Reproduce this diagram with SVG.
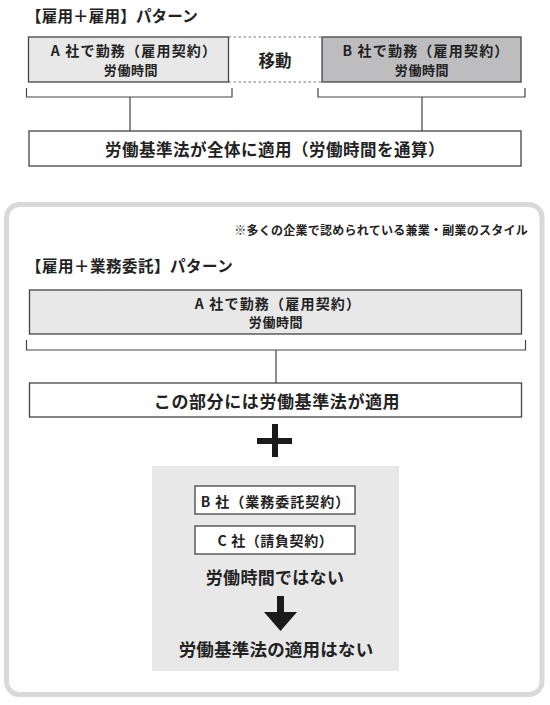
<svg xmlns="http://www.w3.org/2000/svg" width="550" height="705" viewBox="0 0 550 705">
<style>
text{font-family:"Noto Sans CJK JP","Noto Sans",sans-serif;fill:#222;font-weight:bold;dominant-baseline:central}
.c{text-anchor:middle}
.box{stroke:#444;stroke-width:1.3}
.ln{stroke:#444;stroke-width:1.2;fill:none}
.dot{stroke:#777;stroke-width:1.2;stroke-dasharray:2.5 2.5;fill:none}
.t1{font-size:14px;letter-spacing:1.2px}
.t2{font-size:13px;letter-spacing:0.6px}
</style>
<rect width="550" height="705" fill="#fff"/>
<g id="title1"><text x="26" y="15" font-size="15.5" letter-spacing="0.2">【雇用＋雇用】パターン</text></g>
<g id="nodeA1"><rect class="box" x="28.5" y="37" width="200" height="45" fill="#e8e8e9"/>
<text class="c t1" x="134" y="49.5">A 社で勤務（雇用契約）</text>
<text class="c t2" x="131" y="69.5">労働時間</text></g>
<g id="move"><path class="dot" d="M228.5 37H322M228.5 82H322"/>
<text class="c" x="275" y="60" font-size="16.5">移動</text></g>
<g id="nodeB1"><rect class="box" x="322" y="37" width="199" height="45" fill="#bdbdbf"/>
<text class="c t1" x="426" y="49.5">B 社で勤務（雇用契約）</text>
<text class="c t2" x="422" y="69.5">労働時間</text></g>
<g id="law1"><rect class="box" x="29" y="131" width="492" height="35" fill="#fff"/>
<text class="c" x="275" y="148.5" font-size="16.5" letter-spacing="0.5">労働基準法が全体に適用（労働時間を通算）</text></g>
<g id="connectors">
<path class="ln" d="M26.5 88V97H232V88M318 88V97H525V88M130 97V131M422 97V131"/>
<path class="ln" d="M26.5 340V350H525.5V340M276 350V383"/>
</g>
<g id="frame"><rect x="6.5" y="204.5" width="535.5" height="490" rx="13" fill="none" stroke="#d9d9da" stroke-width="5"/></g>
<g id="note"><text x="528" y="229" font-size="12" font-weight="normal" letter-spacing="0.25" text-anchor="end">※多くの企業で認められている兼業・副業のスタイル</text></g>
<g id="title2"><text x="26" y="265" font-size="15.5" letter-spacing="0.5">【雇用＋業務委託】パターン</text></g>
<g id="nodeA2"><rect class="box" x="29.5" y="290" width="492" height="44" fill="#e8e8e9"/>
<text class="c t1" x="278" y="303">A 社で勤務（雇用契約）</text>
<text class="c t2" x="276" y="321.5">労働時間</text></g>
<g id="law2"><rect class="box" x="29.5" y="383" width="492" height="34" fill="#fff"/>
<text class="c" x="277" y="400.5" font-size="17" letter-spacing="0.6">この部分には労働基準法が適用</text></g>
<g id="plus"><path d="M257 438H292V444H257ZM272 424H278V457H272Z" fill="#1a1a1a"/></g>
<g id="greyArea"><rect x="152" y="466" width="247" height="205" fill="#e8e8e9"/></g>
<g id="nodeB2"><rect class="box" x="195" y="486" width="160" height="28" fill="#fff"/>
<text class="c" x="275.5" y="501" font-size="14" letter-spacing="1">B 社（業務委託契約）</text></g>
<g id="nodeC2"><rect class="box" x="195" y="526" width="160" height="28" fill="#fff"/>
<text class="c" x="275.5" y="540" font-size="14" letter-spacing="0.6">C 社（請負契約）</text></g>
<g id="noWork"><text class="c" x="275" y="576" font-size="17" letter-spacing="0.3">労働時間ではない</text></g>
<g id="arrow"><path d="M277 596H284V612H297L280.5 631L264 612H277Z" fill="#1a1a1a"/></g>
<g id="noLaw"><text class="c" x="276" y="648" font-size="17.5" letter-spacing="0.2">労働基準法の適用はない</text></g>
</svg>
